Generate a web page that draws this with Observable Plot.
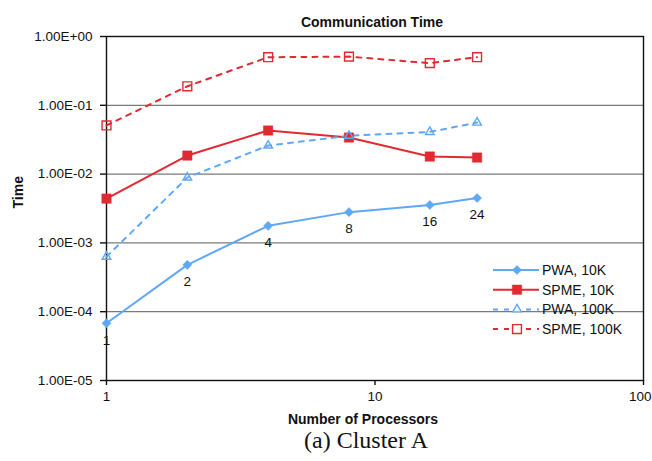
<!DOCTYPE html>
<html><head><meta charset="utf-8">
<script src="https://cdn.jsdelivr.net/npm/d3@7"></script>
<script src="https://cdn.jsdelivr.net/npm/@observablehq/plot@0.6"></script>
<style>
body{margin:0;background:#fff}
#wrap{position:relative;width:652px;height:461px}
#legend{position:absolute;left:0;top:0;pointer-events:none}
</style>
</head><body><div id="wrap"></div>
<script>
const processors = [1, 2, 4, 8, 16, 24];
const pwa10k   = [6.8e-5, 4.8e-4, 1.77e-3, 2.8e-3, 3.55e-3, 4.5e-3];
const spme10k  = [4.4e-3, 1.86e-2, 4.3e-2, 3.4e-2, 1.8e-2, 1.74e-2];
const pwa100k  = [6.3e-4, 8.9e-3, 2.6e-2, 3.6e-2, 4.1e-2, 5.6e-2];
const spme100k = [5.1e-2, 0.189, 0.50, 0.51, 0.41, 0.50];
const seriesNames = ["PWA, 10K", "SPME, 10K", "PWA, 100K", "SPME, 100K"];
const pointLabels = ["1", "2", "4", "8", "16", "24"];
const xTicks = [1, 10, 100];
const yTicks = [1e-5, 1e-4, 1e-3, 1e-2, 1e-1, 1];
const gridTicks = [1e-4, 1e-3, 1e-2, 1e-1];

const BLUE = "#5fa8f7", RED = "#e02a31";
const FONT = "'Liberation Sans', Arial, sans-serif";
const styles = [
  {color: BLUE, dash: null,  symbol: "diamond2", r: 4.1, fill: BLUE},
  {color: RED,  dash: null,  symbol: "square",   r: 5.3, fill: RED},
  {color: BLUE, dash: "5,6", symbol: "triangle", r: 3.2, fill: "none"},
  {color: RED,  dash: "5,6", symbol: "square",   r: 5.0, fill: "none"}
];
const seriesValues = [pwa10k, spme10k, pwa100k, spme100k];

const rows = [];
seriesNames.forEach((s, i) => processors.forEach((p, j) =>
  rows.push({series: s, idx: i, x: p, y: seriesValues[i][j], label: pointLabels[j]})));

const expFmt = d => {
  const n = Math.round(Math.log10(d));
  return "1.00E" + (n >= 0 ? "+" : "-") + String(Math.abs(n)).padStart(2, "0");
};

const seriesMarks = [];
seriesNames.forEach((s, i) => {
  const st = styles[i];
  const data = rows.filter(d => d.idx === i);
  seriesMarks.push(Plot.line(data, {x: "x", y: "y", stroke: st.color, strokeWidth: 2,
    strokeDasharray: st.dash || undefined}));
});
seriesNames.forEach((s, i) => {
  const st = styles[i];
  const data = rows.filter(d => d.idx === i);
  seriesMarks.push(Plot.dot(data, {x: "x", y: "y", symbol: () => st.symbol, r: st.r,
    fill: st.fill, stroke: st.color, strokeWidth: st.fill === "none" ? 1.4 : 0.5}));
});

const lastTick = xTicks[xTicks.length - 1];
const chart = Plot.plot({
  width: 652, height: 461,
  marginTop: 36, marginBottom: 81, marginLeft: 106, marginRight: 9,
  style: {fontFamily: FONT, fontSize: "13.5px", color: "#111", background: "white"},
  x: {type: "log", domain: [1, 100]},
  y: {type: "log", domain: [1e-5, 1]},
  marks: [
    Plot.ruleY(gridTicks, {stroke: "#7a7a7a", strokeWidth: 1.3}),
    Plot.text(rows.filter(d => d.idx === 0), {x: "x", y: "y", text: "label", dy: 17,
      fontSize: 13.5, fill: "#111"}),
    Plot.frame({stroke: "#111", strokeWidth: 1.4}),
    Plot.axisY({ticks: yTicks, tickFormat: expFmt, tickSize: 6, tickPadding: 8, label: null,
      stroke: "#111", strokeWidth: 1.4}),
    Plot.axisX({ticks: xTicks, tickFormat: () => "", tickSize: 5, label: null,
      stroke: "#111", strokeWidth: 1.4}),
    Plot.text(xTicks.filter(t => t !== lastTick), {x: d => d, frameAnchor: "bottom", dy: 20,
      text: d => String(d), fill: "#111"}),
    Plot.text([lastTick], {x: d => d, frameAnchor: "bottom", dy: 20, dx: 8,
      textAnchor: "end", text: d => String(d), fill: "#111"}),
    ...seriesMarks,
    Plot.text(["Communication Time"], {frameAnchor: "top", dy: -19, dx: -3,
      fontWeight: "bold", fontSize: 14, fill: "#111"}),
    Plot.text(["Time"], {frameAnchor: "left", dx: -88, rotate: -90,
      fontWeight: "bold", fontSize: 14, fill: "#111"}),
    Plot.text(["Number of Processors"], {frameAnchor: "bottom", dy: 43, dx: -12,
      fontWeight: "bold", fontSize: 14, fill: "#111"}),
    Plot.text(["(a) Cluster A"], {frameAnchor: "bottom", dy: 67, dx: -9,
      fontFamily: "'Liberation Serif', 'DejaVu Serif', serif", fontSize: 24,
      letterSpacing: "1px", fill: "#111"})
  ]
});
const wrap = document.getElementById("wrap");
wrap.appendChild(chart);

// legend overlay
const lg = d3.select(wrap).append("svg").attr("id", "legend")
  .attr("width", 652).attr("height", 461);
seriesNames.forEach((s, i) => {
  const st = styles[i];
  const cy = 270 + i * 19.7;
  const g = lg.append("g");
  g.append("line").attr("x1", 493).attr("x2", 539).attr("y1", cy).attr("y2", cy)
    .attr("stroke", st.color).attr("stroke-width", 2)
    .attr("stroke-dasharray", st.dash);
  const sym = {diamond2: d3.symbolDiamond2, square: d3.symbolSquare, triangle: d3.symbolTriangle}[st.symbol];
  g.append("path").attr("d", d3.symbol(sym, Math.PI * st.r * st.r)())
    .attr("transform", `translate(517,${cy})`)
    .attr("fill", st.fill === "none" ? "white" : st.fill).attr("stroke", st.color)
    .attr("stroke-width", st.fill === "none" ? 1.4 : 0.5);
  g.append("text").attr("x", 542).attr("y", cy).attr("dy", "0.35em")
    .attr("font-family", FONT).attr("font-size", 14).attr("fill", "#111").text(s);
});
</script>
</body></html>
